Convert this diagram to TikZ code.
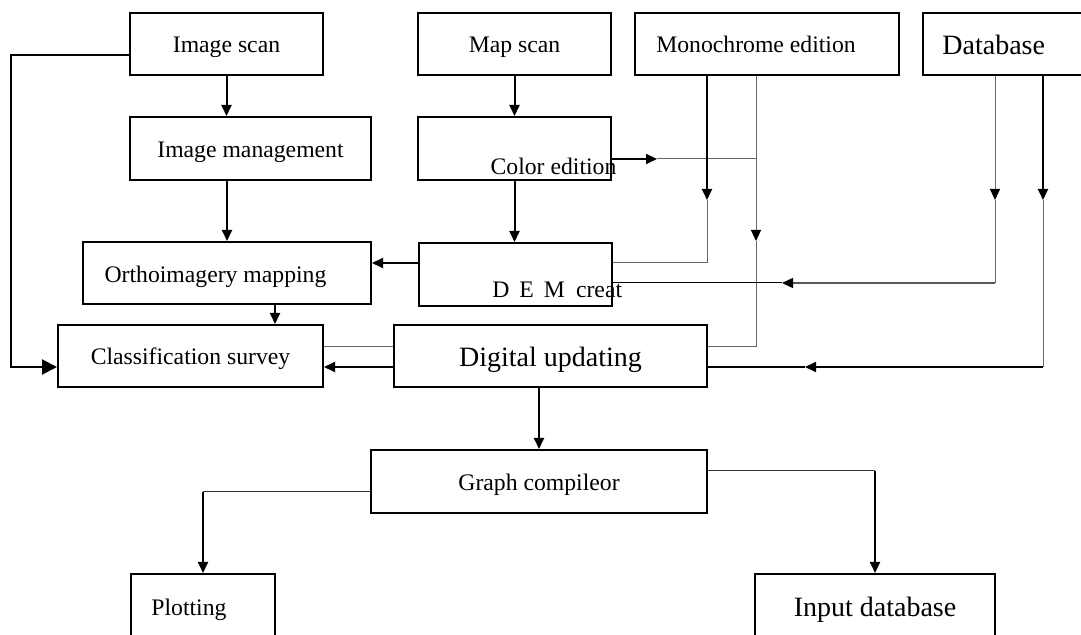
\documentclass[tikz,border=0pt]{standalone}
\usepackage{fontspec}
\setmainfont{Liberation Serif}
\usetikzlibrary{arrows.meta,calc}
\newcommand\txtS{\fontsize{11.85}{14}\selectfont}
\newcommand\txtL{\fontsize{14}{17}\selectfont}
\begin{document}
\begin{tikzpicture}[x=0.5pt,y=-0.5pt,
  box/.style={draw,line width=1pt,inner sep=0pt,font=\txtS,text height=9pt,text depth=0pt},
  bx/.style 2 args={minimum width=#1*0.5pt,minimum height=#2*0.5pt},
  txt/.style={inner sep=0pt,font=\txtS,anchor=base},
  conn/.style={line width=1pt},
  faint/.style={line width=0.5pt,draw=black!60},
  >={Triangle[length=5.5pt,width=5pt,color=black]}]
\clip (0,0) rectangle (1081,635);
\fill[white] (0,0) rectangle (1081,635);
% boxes
\node[box,bx={193}{62}] (imgscan) at (226.5,44) {Image scan};
\node[box,bx={241}{63}] (imgmgmt) at (250.5,148.5) {Image management};
\node[box,bx={288}{62}] (ortho) at (227,273) {};
\node[box,bx={265}{62}] (classif) at (190.5,356) {Classification survey};
\node[box,bx={193}{62}] (mapscan) at (514.5,44) {Map scan};
\node[box,bx={193}{63}] (color) at (514.5,148.5) {};
\node[box,bx={193}{63}] (dem) at (515.5,274.5) {};
\node[box,bx={313}{62},font=\txtL,text height=10.5pt] (digital) at (550.5,356) {Digital updating};
\node[box,bx={264}{62}] (mono) at (767,44) {};
\node[box,bx={177}{62}] (db) at (1011.5,44) {};
\node[box,bx={336}{63}] (graph) at (539,481.5) {Graph compileor};
\node[box,bx={144}{120}] (plot) at (203,634) {};
\node[box,bx={240}{120}] (inputdb) at (875,634) {};
% texts placed off-centre (baselines)
\node[txt] (orthotxt) at (215.5,283) {Orthoimagery mapping};
\node[txt] (monotxt) at (756,53) {Monochrome edition};
\node[txt,anchor=base west,font=\txtL] (dbtxt) at (942,55) {Database};
\node[txt] (colortxt) at (553.5,175) {Color edition};
\node[txt,anchor=base west] (demtxt) at (492,298) {D\hspace{5pt}E\hspace{5pt}M\hspace{5.5pt}creat};
\node[txt,anchor=base west] (plottxt) at (151,615) {Plotting};
\node[txt,font=\txtL] (inputtxt) at (875,616) {Input database};
% connectors
\draw[conn,-{Triangle[length=7.5pt,width=7.5pt]}] ($(imgscan.west)+(0,11)$) -| (11,367) -- ($(classif.west)+(0,11)$);
\draw[conn,->] (imgscan.south) -- (imgscan.south |- imgmgmt.north);
\draw[conn,->] (ortho.north |- imgmgmt.south) -- (ortho.north);
\coordinate (o1) at ($(ortho.south)+(48,0)$);
\draw[conn,->] (o1) -- (o1 |- classif.north);
\draw[conn,->] ($(digital.west)+(0,11)$) -- ($(classif.east)+(0,11)$);
\draw[faint] ($(digital.west)+(0,-9)$) -- ($(classif.east)+(0,-9)$);
\draw[conn,->] (mapscan.south) -- (mapscan.south |- color.north);
\draw[conn,->] (color.south) -- (color.south |- dem.north);
\coordinate (d1) at ($(dem.west)+(0,-11.5)$);
\draw[conn,->] (d1) -- (d1 -| ortho.east);
\draw[conn,->] (graph.north |- digital.south) -- (graph.north);
% colour edition to the right
\coordinate (c1) at ($(color.east)+(0,10.5)$);
\coordinate (c2) at (657,159);
\draw[conn,->] (c1) -- (c2);
\draw[faint] (c2) -- (756,159);
% monochrome x=756
\coordinate (m1) at ($(mono.south)+(-11,0)$);
\coordinate (m1a) at (756,241);
\draw[faint,->] (m1) -- (m1a);
\draw[faint] (m1a) -- (756,347) -- ($(digital.east)+(0,-9)$);
% monochrome x=707
\coordinate (m2) at ($(mono.south)+(-60,0)$);
\coordinate (m2a) at (707,200);
\draw[conn,->] (m2) -- (m2a);
\draw[faint] (m2a) -- (707,263) -- ($(dem.east)+(0,-11.5)$);
% database x=995
\coordinate (b1) at ($(db.south)+(-16.5,0)$);
\coordinate (b1a) at (995,200);
\coordinate (b1b) at (782,283);
\draw[faint,->] (b1) -- (b1a);
\draw[faint] (b1a) -- (995,283);
\draw[line width=0.8pt,draw=black!65,->] (995,283) -- (b1b);
\draw[line width=0.5pt] (b1b) -- ($(dem.east)+(0,8.5)$);
% database x=1043
\coordinate (b2) at ($(db.south)+(31.5,0)$);
\coordinate (b2a) at (1043,200);
\coordinate (b2b) at (805,367);
\draw[conn,->] (b2) -- (b2a);
\draw[faint] (b2a) -- (1043,367);
\draw[conn,->] (1043,367) -- (b2b);
\draw[conn] (b2b) -- ($(digital.east)+(0,11)$);
% graph compileor outputs
\coordinate (g1) at ($(graph.west)+(0,10.5)$);
\draw[line width=0.5pt,draw=black!80] (g1) -- (g1 -| plot.north);
\draw[conn,->] (g1 -| plot.north) -- (plot.north);
\coordinate (g2) at ($(graph.east)+(0,-10.5)$);
\draw[line width=0.5pt,draw=black!80] (g2) -- (g2 -| inputdb.north);
\draw[conn,->] (g2 -| inputdb.north) -- (inputdb.north);
\end{tikzpicture}
\end{document}
